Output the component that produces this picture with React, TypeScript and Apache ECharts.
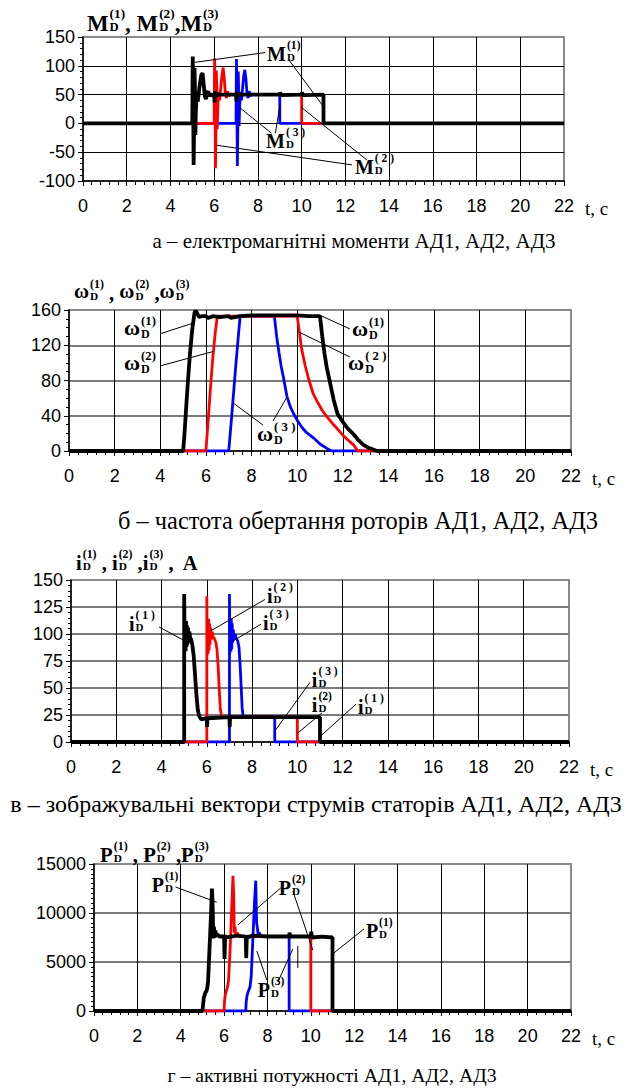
import React, { useEffect, useRef } from "react";
import * as echarts from "echarts";

type Pt = [number, number];

// ---------------- Data (t, value) ----------------
// а – electromagnetic torques M_D
const M1: Pt[] = [
  [0, 0], [5.0, 0], [5.01, 70], [5.02, 116], [5.04, 30], [5.06, -72], [5.08, -10], [5.1, 96], [5.12, 60],
  [5.14, -20], [5.16, 20], [5.2, 48], [5.25, 38], [5.3, 55], [5.36, 72], [5.42, 85], [5.47, 87], [5.52, 68],
  [5.57, 48], [5.62, 42], [5.67, 52], [5.72, 56], [5.77, 47], [5.83, 51], [5.9, 49], [6.0, 50], [6.02, 36],
  [6.04, 56], [6.07, 46], [6.1, 52], [6.2, 50], [7.0, 50], [7.02, 38], [7.04, 55], [7.07, 46], [7.1, 51],
  [7.3, 50], [9.0, 50], [9.02, 54], [9.05, 49], [10.0, 50], [10.02, 54], [10.05, 49], [11.0, 50], [11.0, 0], [22, 0],
];
const M2: Pt[] = [
  [0, 0], [6.0, 0], [6.01, 70], [6.02, 113], [6.04, 30], [6.06, -78], [6.08, -15], [6.1, 92], [6.12, 55],
  [6.14, -10], [6.16, 20], [6.2, 55], [6.25, 40], [6.3, 62], [6.36, 85], [6.41, 97], [6.46, 78], [6.51, 52],
  [6.56, 44], [6.61, 56], [6.66, 47], [6.72, 51], [6.8, 50], [7.0, 50], [7.02, 40], [7.05, 53], [7.1, 50],
  [10.0, 50], [10.0, 0], [22, 0],
];
const M3: Pt[] = [
  [0, 0], [7.0, 0], [7.01, 70], [7.02, 112], [7.04, 30], [7.06, -74], [7.08, -15], [7.1, 90], [7.12, 55],
  [7.14, -5], [7.16, 25], [7.2, 55], [7.25, 40], [7.3, 62], [7.35, 82], [7.4, 93], [7.45, 78], [7.5, 52],
  [7.55, 44], [7.6, 56], [7.65, 47], [7.71, 51], [7.8, 50], [9.0, 50], [9.0, 0], [22, 0],
];

// б – rotor speeds ω_D
const W1: Pt[] = [
  [0, 0], [5.0, 0], [5.05, 15], [5.1, 35], [5.2, 75], [5.3, 110], [5.4, 138], [5.5, 157], [5.55, 159],
  [5.6, 157], [5.7, 152], [5.8, 153], [6.0, 153], [6.1, 151], [6.3, 153], [6.6, 152], [7.0, 153], [7.1, 151],
  [7.5, 153], [8.0, 154], [9.0, 154], [10.0, 154], [10.5, 153], [11.0, 153], [11.1, 130], [11.2, 110],
  [11.3, 94], [11.42, 80], [11.6, 58], [11.77, 42], [12.0, 33], [12.2, 26], [12.47, 19], [12.7, 12],
  [12.9, 7], [13.1, 4], [13.3, 2], [13.5, 0], [22, 0],
];
const W2: Pt[] = [
  [0, 0], [6.0, 0], [6.1, 35], [6.2, 72], [6.3, 105], [6.4, 132], [6.5, 153], [7.0, 153], [10.0, 153],
  [10.09, 136], [10.2, 115], [10.35, 97], [10.5, 82], [10.7, 65], [10.88, 56], [11.1, 46], [11.3, 39],
  [11.59, 30], [11.8, 24], [12.0, 18], [12.2, 13], [12.47, 7], [12.65, 0], [22, 0],
];
const W3: Pt[] = [
  [0, 0], [7.0, 0], [7.1, 30], [7.2, 62], [7.3, 94], [7.4, 124], [7.5, 153], [9.0, 153], [9.1, 130],
  [9.2, 112], [9.3, 96], [9.4, 83], [9.55, 62], [9.7, 50], [9.85, 42], [10.0, 35], [10.2, 27], [10.4, 21],
  [10.71, 15], [11.0, 8], [11.3, 3], [11.5, 0], [22, 0],
];

// в – stator current space vectors i_D, A
const I1: Pt[] = [
  [0, 0], [5.0, 0], [5.0, 137], [5.02, 86], [5.04, 110], [5.06, 84], [5.08, 112], [5.1, 88], [5.12, 108],
  [5.14, 90], [5.17, 106], [5.2, 92], [5.23, 102], [5.27, 95], [5.3, 96], [5.36, 90], [5.42, 80], [5.48, 62],
  [5.54, 44], [5.6, 30], [5.66, 24], [5.75, 21], [6.0, 22], [6.01, 14], [6.03, 22], [7.0, 23], [7.01, 14],
  [7.03, 23], [9.0, 23], [10.0, 23], [11.0, 23], [11.0, 0], [22, 0],
];
const I2: Pt[] = [
  [0, 0], [6.0, 0], [6.0, 135], [6.02, 80], [6.04, 112], [6.06, 82], [6.08, 114], [6.1, 85], [6.12, 110],
  [6.14, 90], [6.17, 106], [6.2, 95], [6.24, 102], [6.28, 97], [6.33, 96], [6.4, 92], [6.45, 86], [6.5, 70],
  [6.55, 48], [6.6, 30], [6.65, 24], [6.7, 23], [10.0, 23], [10.0, 0], [22, 0],
];
const I3: Pt[] = [
  [0, 0], [7.0, 0], [7.0, 137], [7.02, 82], [7.04, 110], [7.06, 84], [7.08, 114], [7.1, 86], [7.12, 110],
  [7.14, 92], [7.17, 104], [7.2, 95], [7.25, 100], [7.3, 96], [7.36, 94], [7.42, 88], [7.47, 72], [7.52, 50],
  [7.56, 32], [7.6, 24], [7.66, 23], [9.0, 23], [9.0, 0], [22, 0],
];

// г – active powers P_D
const P1: Pt[] = [
  [0, 0], [5.0, 0], [5.03, 600], [5.06, 1300], [5.1, 1600], [5.14, 1900], [5.18, 2000], [5.22, 2300],
  [5.26, 3000], [5.3, 5000], [5.35, 7500], [5.4, 10000], [5.44, 12500], [5.47, 11000], [5.5, 7400],
  [5.53, 8600], [5.56, 7500], [5.6, 8200], [5.64, 7600], [5.7, 7800], [5.8, 7600], [6.0, 7600], [6.02, 5300],
  [6.05, 7700], [6.1, 7500], [6.3, 7600], [6.6, 7700], [7.0, 7600], [7.02, 5400], [7.05, 7700], [7.1, 7500],
  [7.3, 7700], [8.0, 7600], [9.0, 7600], [9.02, 8000], [9.05, 7600], [10.0, 7600], [10.02, 8100],
  [10.05, 7500], [10.5, 7600], [11.0, 7500], [11.0, 0], [22, 0],
];
const P2: Pt[] = [
  [0, 0], [6.0, 0], [6.02, 1000], [6.05, 1600], [6.1, 2000], [6.15, 2400], [6.2, 3000], [6.25, 5000],
  [6.3, 7500], [6.35, 10500], [6.41, 13800], [6.44, 12000], [6.47, 8000], [6.5, 8600], [6.54, 7600],
  [6.6, 8000], [6.7, 7600], [10.0, 7600], [10.0, 0], [22, 0],
];
const P3: Pt[] = [
  [0, 0], [7.0, 0], [7.02, 900], [7.05, 1500], [7.1, 1900], [7.15, 2200], [7.2, 2500], [7.25, 3500],
  [7.3, 6000], [7.35, 8500], [7.4, 11000], [7.46, 13300], [7.5, 9000], [7.54, 8400], [7.58, 7600],
  [7.62, 8000], [7.7, 7600], [9.0, 7600], [9.0, 0], [22, 0],
];

const CAPTIONS = [
  "а – електромагнітні моменти АД1, АД2, АД3",
  "б – частота обертання роторів АД1, АД2, АД3",
  "в – зображувальні вектори струмів статорів АД1, АД2, АД3",
  "г – активні потужності АД1, АД2, АД3",
];
const X_UNIT = "t, c";
const T_MIN = 0;
const T_MAX = 22;
const T_STEP = 2;
const Y_MIN = [-100, 0, 0, 0];
const Y_MAX = [150, 160, 150, 15000];
const Y_STEP = [50, 40, 25, 5000];
const Y_MINOR = [5, 4, 5, 10];
const SYMBOLS = ["M", "ω", "i", "P"];

// ---------------- Layout ----------------
const GRIDS = [
  { left: 83, top: 37, width: 481, height: 144 },
  { left: 69, top: 310, width: 502, height: 141 },
  { left: 71, top: 580, width: 498, height: 162 },
  { left: 94, top: 864, width: 477, height: 147 },
];
const H_GRID = [
  { color: "#000", width: 1 },
  { color: "#7a7a7a", width: 2 },
  { color: "#7a7a7a", width: 2 },
  { color: "#7a7a7a", width: 2 },
];
const SERIF = "Liberation Serif";
const SANS = "Liberation Sans";
const COLORS = ["#0000ff", "#ff0000", "#000000"];
const WIDTHS = [2.8, 2.8, 3.8];

// annotation labels, anchored in data coordinates
const ANN: any[] = [
  { g: 0, sup: "(1)", at: [8.42, 120], lines: [[[8.33, 123], [5.12, 106]], [[9.42, 110], [10.98, 30]]] },
  { g: 0, sup: "( 3 )", at: [8.37, -31], lines: [[[8.62, -17], [7.18, 27]], [[8.8, -17], [9.0, 30]]] },
  { g: 0, sup: "( 2 )", at: [12.44, -76], lines: [[[12.3, -72], [6.13, -38]], [[13.0, -64], [9.98, 28]]] },
  { g: 1, sup: "(1)", at: [2.41, 137], lines: [[[3.99, 133], [5.43, 145]]] },
  { g: 1, sup: "(2)", at: [2.41, 97.6], lines: [[[3.99, 96.5], [6.33, 113]]] },
  { g: 1, sup: "(1)", at: [12.4, 136], lines: [[[12.31, 138.5], [11.0, 154]]] },
  { g: 1, sup: "( 2 )", at: [12.23, 97.6], lines: [[[12.31, 106.7], [10.08, 135]]] },
  { g: 1, sup: "( 3 )", at: [8.24, 17], lines: [[[8.5, 29.5], [7.17, 55]], [[8.94, 34], [9.55, 61]]] },
  { g: 2, sup: "( 1 )", at: [2.56, 109], lines: [[[3.89, 106.5], [5.04, 93.5]]] },
  { g: 2, sup: "( 2 )", at: [8.66, 135], lines: [[[8.57, 132], [6.18, 103]]] },
  { g: 2, sup: "( 3 )", at: [8.48, 110], lines: [[[8.39, 109], [7.16, 93.5]]] },
  { g: 2, sup: "( 3 )", at: [10.64, 57.5], lines: [[[10.55, 55], [9.0, 10]]] },
  { g: 2, sup: "(2)", at: [10.64, 34], lines: [[[11.09, 27], [10.0, 8]]] },
  { g: 2, sup: "( 1 )", at: [12.68, 32.4], lines: [[[12.59, 35], [11.0, 5]]] },
  { g: 3, sup: "(1)", at: [2.66, 12857], lines: [[[3.76, 12650], [5.66, 11100]]] },
  { g: 3, sup: "(2)", at: [8.52, 12550], lines: [[[8.61, 12550], [6.63, 8775]], [[9.17, 12245], [10.09, 6224]]] },
  { g: 3, sup: "(3)", at: [7.55, 2143], lines: [[[7.97, 3163], [7.51, 6122]], [[8.48, 2959], [9.17, 6327]]] },
  { g: 3, sup: "(1)", at: [12.54, 8163], lines: [[[12.45, 8367], [11.06, 5918]]] },
  { g: 3, lines: [[[9.4, 6630], [9.4, 4390]]] },
];
const ANN_SIZE = [20, 22, 20, 20];
const GLYPH_DY = [0, -2.5, 0, 0]; // lower-case ω sits lower than its box centre

// titles: left x, centre y, target width
const TITLES = [
  { x: 87, y: 23, w: 132, seps: [", ", ","], tail: "" },
  { x: 74, y: 293, w: 116, seps: [" , ", " ,"], tail: "" },
  { x: 76, y: 563, w: 123, seps: [" , ", " ,"], tail: " ,  A" },
  { x: 100, y: 855, w: 109, seps: [" , ", " ,"], tail: "" },
];
const CAPTION_LAYOUT = [
  { cx: 354, cy: 241, w: 402 },
  { cx: 358, cy: 520, w: 480 },
  { cx: 316, cy: 804, w: 612 },
  { cx: 332, cy: 1075, w: 330 },
];

function txt(x: number, y: number, text: string, size: number, bold: boolean, family: string, align = "left") {
  return {
    type: "text", x, y, silent: true, z: 100,
    style: {
      text, fill: "#000", fontSize: size, fontFamily: family, fontWeight: bold ? "bold" : "normal",
      lineHeight: size, align, verticalAlign: "middle", textAlign: align, textVerticalAlign: "middle",
    },
  };
}
function ln(x1: number, y1: number, x2: number, y2: number) {
  return { type: "line", silent: true, z: 100, shape: { x1, y1, x2, y2 }, style: { stroke: "#000", lineWidth: 1 } };
}

function buildOption() {
  const data = [[M3, M2, M1], [W3, W2, W1], [I3, I2, I1], [P3, P2, P1]];
  const series: any[] = [];
  data.forEach((group, g) =>
    group.forEach((d, k) =>
      series.push({
        type: "line", xAxisIndex: g, yAxisIndex: g, data: d, symbol: "none", showSymbol: false,
        silent: true, z: 2 + k, lineStyle: { color: COLORS[k], width: WIDTHS[k] }, itemStyle: { color: COLORS[k] },
      })
    )
  );
  return {
    animation: false,
    backgroundColor: "#fff",
    grid: GRIDS.map((gr) => ({ ...gr, show: true, borderColor: "#8a8a8a", borderWidth: 2, backgroundColor: "transparent" })),
    xAxis: GRIDS.map((_, g) => ({
      type: "value", gridIndex: g, min: T_MIN, max: T_MAX, interval: T_STEP,
      axisLine: { show: true, onZero: false, lineStyle: { color: "#000", width: 1.5 } },
      axisTick: { show: true, inside: false, length: 5, lineStyle: { color: "#000", width: 1 } },
      minorTick: { show: true, splitNumber: 5, length: 4, lineStyle: { color: "#000", width: 1 } },
      axisLabel: { show: true, margin: 16, color: "#000", fontSize: 18, fontFamily: SANS, formatter: (v: number) => String(v) },
      splitLine: { show: true, showMinLine: false, showMaxLine: false, lineStyle: { color: "#000", width: 1 } },
      minorSplitLine: { show: false },
    })),
    yAxis: GRIDS.map((_, g) => ({
      type: "value", gridIndex: g, min: Y_MIN[g], max: Y_MAX[g], interval: Y_STEP[g],
      axisLine: { show: true, onZero: false, lineStyle: { color: "#000", width: 1.5 } },
      axisTick: { show: true, inside: false, length: 5, lineStyle: { color: "#000", width: 1 } },
      minorTick: { show: true, splitNumber: Y_MINOR[g], length: 3, lineStyle: { color: "#000", width: 1 } },
      axisLabel: { show: true, margin: 8, color: "#000", fontSize: 18, fontFamily: SANS, formatter: (v: number) => String(v) },
      splitLine: { show: true, showMinLine: false, showMaxLine: false, lineStyle: H_GRID[g] },
    })),
    series,
  };
}

function buildGraphics(chart: any, ctx: CanvasRenderingContext2D) {
  const measure = (t: string, size: number, bold: boolean) => {
    ctx.font = `${bold ? "bold " : ""}${size}px "${SERIF}"`;
    return ctx.measureText(t).width;
  };
  const els: any[] = [];
  // main letter with superscript index and subscript D; returns advance width
  const label = (x: number, y: number, main: string, sup: string, size: number, dy: number, out: any[] | null) => {
    const ss = Math.round(size * 0.58 * 10) / 10;
    const ds = Math.round(size * 0.55 * 10) / 10;
    const w = measure(main, size, true);
    if (out) {
      out.push(txt(x, y + dy, main, size, true, SERIF));
      out.push(txt(x + w + 1, y - size * 0.42, sup, ss, true, SERIF));
      out.push(txt(x + w + 1, y + size * 0.16, "D", ds, true, SERIF));
    }
    return w + 1 + Math.max(measure(sup, ss, true), measure("D", ds, true));
  };
  // annotations
  ANN.forEach((a) => {
    const px = (p: number[]) => chart.convertToPixel({ gridIndex: a.g }, p);
    if (a.at) {
      const [x, y] = px(a.at);
      label(x, y, SYMBOLS[a.g], a.sup, ANN_SIZE[a.g], GLYPH_DY[a.g], els);
    }
    a.lines.forEach((l: number[][]) => {
      const [x1, y1] = px(l[0]);
      const [x2, y2] = px(l[1]);
      els.push(ln(x1, y1, x2, y2));
    });
  });
  // titles, sized to fit their target width
  TITLES.forEach((t, g) => {
    const run = (size: number, out: any[] | null) => {
      let x = t.x;
      for (let k = 0; k < 3; k++) {
        x += label(x, t.y, SYMBOLS[g], `(${k + 1})`, size, GLYPH_DY[g] * size / 22, out);
        const sep = k < 2 ? t.seps[k] : t.tail;
        if (sep) {
          if (out) out.push(txt(x, t.y, sep, size, true, SERIF));
          x += measure(sep, size, true);
        }
      }
      return x - t.x;
    };
    const w18 = run(18, null);
    const size = Math.max(16, Math.min(24, Math.round((18 * t.w) / w18 * 10) / 10));
    run(size, els);
  });
  // axis unit labels "t, c"
  GRIDS.forEach((gr, g) => {
    const [x, y] = chart.convertToPixel({ gridIndex: g }, [T_MAX, Y_MIN[g]]);
    els.push(txt(x + 21, y + 27, X_UNIT, 19, false, SERIF));
  });
  // captions
  CAPTIONS.forEach((c, i) => {
    const L = CAPTION_LAYOUT[i];
    const base = measure(c, 20, false);
    const fs = Math.max(17, Math.min(26, (20 * L.w) / base));
    els.push(txt(L.cx, L.cy, c, Math.round(fs * 10) / 10, false, SERIF, "center"));
  });
  return els;
}

export default function App() {
  const ref = useRef<HTMLDivElement>(null);
  useEffect(() => {
    document.body.style.margin = "0";
    const el = ref.current as HTMLDivElement;
    const chart = echarts.init(el, null, { renderer: "svg", width: 630, height: 1090 });
    chart.setOption(buildOption() as any);
    const ctx = document.createElement("canvas").getContext("2d") as CanvasRenderingContext2D;
    chart.setOption({ graphic: { elements: buildGraphics(chart, ctx) } } as any);
    return () => chart.dispose();
  }, []);
  return <div ref={ref} style={{ width: 630, height: 1090, background: "#fff" }} />;
}
